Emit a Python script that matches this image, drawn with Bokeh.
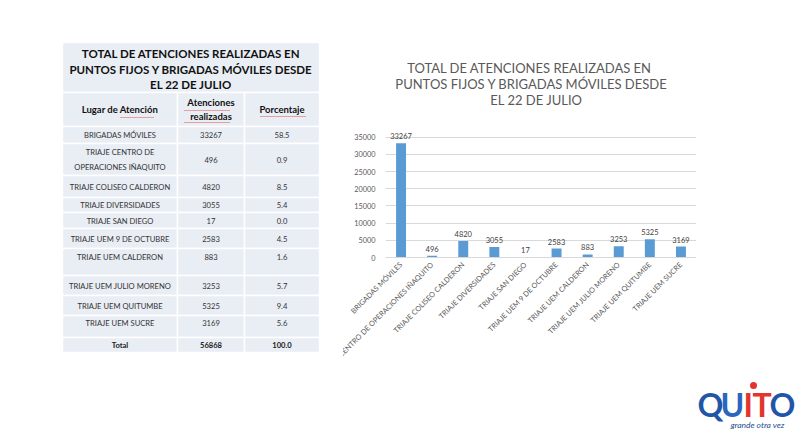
import math
from bokeh.plotting import figure
from bokeh.models import Range1d, FactorRange, Spacer
from bokeh.layouts import row, column
from bokeh.embed import file_html
from bokeh.resources import INLINE
from bokeh.core.properties import value

# ---------------- data ----------------
title_lines = ["TOTAL DE ATENCIONES REALIZADAS EN",
               "PUNTOS FIJOS Y BRIGADAS MÓVILES DESDE",
               "EL 22 DE JULIO"]
headers = ["Lugar de Atención", "Atenciones\nrealizadas", "Porcentaje"]
table_names = ["BRIGADAS MÓVILES", "TRIAJE CENTRO DE\nOPERACIONES IÑAQUITO",
               "TRIAJE COLISEO CALDERON", "TRIAJE DIVERSIDADES", "TRIAJE SAN DIEGO",
               "TRIAJE UEM 9 DE OCTUBRE", "TRIAJE UEM CALDERON", "TRIAJE UEM JULIO MORENO",
               "TRIAJE UEM QUITUMBE", "TRIAJE UEM SUCRE"]
chart_names = [n.replace("\n", " ") for n in table_names]
atenciones = [33267, 496, 4820, 3055, 17, 2583, 883, 3253, 5325, 3169]
porcentaje = ["58.5", "0.9", "8.5", "5.4", "0.0", "4.5", "1.6", "5.7", "9.4", "5.6"]
total_label = "Total"
total_atenciones = 56868
total_porcentaje = "100.0"
y_ticks = [0, 5000, 10000, 15000, 20000, 25000, 30000, 35000]
logo_letters = ["Q", "U", "I", "T", "O"]
logo_tagline = "grande otra vez"

# ---------------- layout (page pixels) ----------------
col_edges = [62, 177, 244, 319]
row_edges = [42, 92, 126, 143, 175, 197, 212, 228, 248, 275, 295, 315, 337, 352]
row_shift = [0, 0, 0, 0, 0, 0, -5, 0, 0, -4, 0]   # data rows + total
FONT = "Lato"
CELL = "#e9edf4"
PAGE_H = 440
TABLE_W = 343
MID_W = 353          # 343 .. 696
TITLE_H = 122
LOGO_W = 800 - TABLE_W - MID_W
LOGO_H = 62


def blank(w, h, xr, yr, **kw):
    f = figure(width=w, height=h, x_range=Range1d(*xr), y_range=Range1d(*yr),
               output_backend="svg", toolbar_location=None,
               x_axis_location=None, y_axis_location=None, **kw)
    f.grid.visible = False
    f.outline_line_color = None
    return f


# ---------------- table figure ----------------
t = blank(TABLE_W, PAGE_H, (0, TABLE_W), (PAGE_H, 0), min_border=0)

L, R, T, B = [], [], [], []
L.append(col_edges[0]); R.append(col_edges[-1]); T.append(row_edges[0]); B.append(row_edges[1])
for r in range(1, len(row_edges) - 1):
    for c in range(3):
        L.append(col_edges[c]); R.append(col_edges[c + 1])
        T.append(row_edges[r]); B.append(row_edges[r + 1])
t.quad(left=L, right=R, top=T, bottom=B, fill_color=CELL, line_color="white", line_width=1.5)

cx = [(col_edges[c] + col_edges[c + 1]) / 2 for c in range(3)]
tcx = (col_edges[0] + col_edges[-1]) / 2
t.text(x=[tcx] * 3, y=[53, 68.5, 84], text=title_lines, text_align="center",
       text_baseline="middle", text_font=value(FONT), text_font_style="bold",
       text_font_size="11.5px", text_color="#111111")
hy = (row_edges[1] + row_edges[2]) / 2
t.text(x=cx, y=[hy] * 3, text=headers, text_align="center", text_baseline="middle",
       text_font=value(FONT), text_font_style="bold", text_font_size="9.5px",
       text_color="#111111", text_line_height=1.25)
# spell-check squiggles under header words
sq_x = [[120, 154], [184, 230], [184, 229], [260, 305]]
sq_y = [[117, 117], [110, 110], [122, 122], [116, 116]]
t.multi_line(xs=sq_x, ys=sq_y, line_color="#e05050", line_width=1, line_dash="1 1")

ys = []
for i in range(len(table_names) + 1):
    top, bot = row_edges[i + 2], row_edges[i + 3]
    ys.append((top + bot) / 2 + row_shift[i])
col1 = table_names + [total_label]
col2 = [str(v) for v in atenciones] + [str(total_atenciones)]
col3 = porcentaje + [total_porcentaje]
n = len(table_names)
for c, txt in enumerate([col1, col2, col3]):
    t.text(x=[cx[c]] * n, y=ys[:n], text=txt[:n], text_align="center", text_baseline="middle",
           text_font=value(FONT), text_font_size="7.6px", text_color="#333333",
           text_line_height=1.55)
    t.text(x=[cx[c]], y=[ys[n]], text=[txt[n]], text_align="center", text_baseline="middle",
           text_font=value(FONT), text_font_style="bold", text_font_size="7.6px",
           text_color="#222222")

# ---------------- chart title figure ----------------
ct = blank(MID_W, TITLE_H, (TABLE_W + 42, TABLE_W + MID_W), (TITLE_H, 0),
           min_border_left=42, min_border_right=0, min_border_top=0, min_border_bottom=0)
ct.text(x=[529, 531, 536], y=[67, 83, 99], text=title_lines, text_align="center",
        text_baseline="middle", text_font=value(FONT), text_font_size="13px",
        text_color="#595959")

# ---------------- chart figure ----------------
p = figure(width=MID_W, height=PAGE_H - TITLE_H, x_range=FactorRange(*chart_names),
           y_range=Range1d(0, 36950), output_backend="svg", toolbar_location=None,
           min_border_left=42, min_border_right=0, min_border_top=8,
           min_border_bottom=PAGE_H - TITLE_H - 8 - 127)
p.outline_line_color = None
p.xgrid.grid_line_color = None
p.ygrid.grid_line_color = "#d9d9d9"
p.ygrid.ticker = y_ticks
p.yaxis.ticker = y_ticks
p.yaxis.axis_line_color = None
p.yaxis.major_tick_line_color = None
p.yaxis.minor_tick_line_color = None
p.yaxis.major_tick_out = 0
p.yaxis.minor_tick_out = 0
p.yaxis.major_label_standoff = 10
p.yaxis.major_label_text_font = FONT
p.yaxis.major_label_text_font_size = "7.3px"
p.yaxis.major_label_text_color = "#595959"
p.xaxis.axis_line_color = "#d9d9d9"
p.xaxis.major_tick_line_color = None
p.xaxis.minor_tick_line_color = None
p.xaxis.major_tick_out = 0
p.xaxis.minor_tick_out = 0
p.xaxis.major_label_orientation = math.pi / 4
p.xaxis.major_label_standoff = 6
p.xaxis.major_label_text_font = FONT
p.xaxis.major_label_text_font_size = "7.3px"
p.xaxis.major_label_text_color = "#595959"

p.vbar(x=chart_names, top=atenciones, width=0.32, fill_color="#5b9bd5", line_color=None)
p.text(x=chart_names, y=atenciones, text=[str(v) for v in atenciones], text_align="center",
       text_baseline="bottom", y_offset=-4, text_font=value(FONT), text_font_size="7.5px",
       text_color="#404040")

# ---------------- logo figure ----------------
x0 = TABLE_W + MID_W
lg = blank(LOGO_W, LOGO_H, (x0, 800), (PAGE_H, PAGE_H - LOGO_H), min_border=0)
logo_x = [697, 720, 743, 752, 769]
logo_c = ["#1f56a8", "#2a66bf", "#e3342f", "#e3342f", "#1f56a8"]
lg.text(x=logo_x, y=[404] * 5, text=logo_letters, text_align="left",
        text_baseline="middle", text_font=value(FONT), text_font_style="bold",
        text_font_size="32px", text_color=logo_c)
lg.scatter(x=[753], y=[385], size=7, marker="circle", fill_color="#e3342f", line_color=None)
lg.text(x=[757], y=[424], text=[logo_tagline], text_align="center", text_baseline="middle",
        text_font=value(FONT), text_font_style="italic", text_font_size="8.5px",
        text_color="#1f4e8f")

layout = row(column(t), column(ct, p), column(Spacer(width=LOGO_W, height=PAGE_H - LOGO_H), lg))
open("out.html", "w").write(file_html(layout, INLINE))
